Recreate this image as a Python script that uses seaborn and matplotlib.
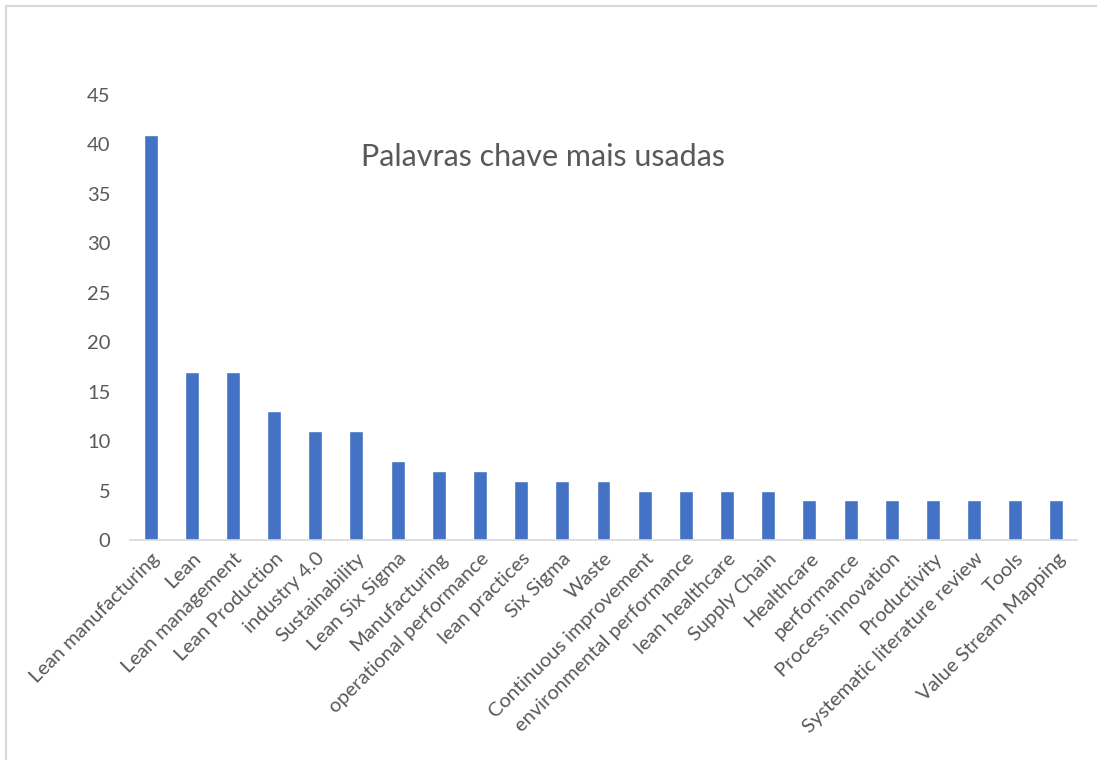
import matplotlib
matplotlib.use("Agg")
import matplotlib.pyplot as plt
import seaborn as sns
import pandas as pd
from matplotlib.lines import Line2D

keywords = [
    "Lean manufacturing", "Lean", "Lean management", "Lean Production",
    "industry 4.0", "Sustainability", "Lean Six Sigma", "Manufacturing",
    "operational performance", "lean practices", "Six Sigma", "Waste",
    "Continuous improvement", "environmental performance", "lean healthcare",
    "Supply Chain", "Healthcare", "performance", "Process innovation",
    "Productivity", "Systematic literature review", "Tools",
    "Value Stream Mapping",
]
counts = [41, 17, 17, 13, 11, 11, 8, 7, 7, 6, 6, 6, 5, 5, 5, 5, 4, 4, 4, 4, 4, 4, 4]
y_ticks = [0, 5, 10, 15, 20, 25, 30, 35, 40, 45]
title = "Palavras chave mais usadas"

sns.set_style("white")
plt.rcParams["font.family"] = ["Lato", "DejaVu Sans"]

df = pd.DataFrame({"keyword": keywords, "count": counts})

fig = plt.figure(figsize=(10.97, 7.60), dpi=100)
ax = fig.add_axes([130 / 1097, 1 - 540 / 760, (1077 - 130) / 1097, (540 - 95) / 760])

sns.barplot(data=df, x="keyword", y="count", color="#4472C4", width=0.34,
            saturation=1, ax=ax)

ax.set_ylim(0, 45)
ax.set_xlim(-0.5, len(keywords) - 0.5)
ax.set_yticks(y_ticks)
ax.set_yticklabels([str(t) for t in y_ticks], fontsize=14.5, color="#595959")
ax.set_xticks(range(len(keywords)))
ax.set_xticklabels(keywords, rotation=45, ha="right", rotation_mode="anchor",
                   fontsize=14.5, color="#595959")
ax.tick_params(axis="both", length=0)
ax.tick_params(axis="y", pad=14)
ax.tick_params(axis="x", pad=7)
ax.set_xlabel("")
ax.set_ylabel("")

for side in ["top", "right", "left"]:
    ax.spines[side].set_visible(False)
ax.spines["bottom"].set_color("#D9D9D9")
ax.spines["bottom"].set_linewidth(1.2)

ax.text(0.436, 0.86, title, transform=ax.transAxes, ha="center", va="center",
        fontsize=22, color="#595959")

# chart area frame
fig.add_artist(Line2D([6 / 1097, 1], [1 - 6 / 760, 1 - 6 / 760],
                      transform=fig.transFigure, color="#D9D9D9", lw=1.5))
fig.add_artist(Line2D([6 / 1097, 6 / 1097], [0, 1 - 6 / 760],
                      transform=fig.transFigure, color="#D9D9D9", lw=1.5))

fig.savefig("out.png", dpi=100, facecolor="white")
